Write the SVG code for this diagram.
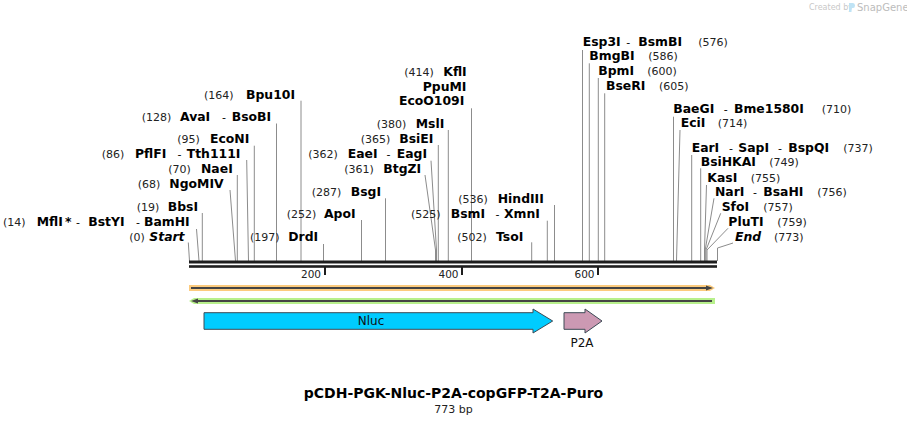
<svg xmlns="http://www.w3.org/2000/svg" width="907" height="424" viewBox="0 0 907 424">
<style>
text{font-family:"DejaVu Sans",Verdana,sans-serif}
.n{font-size:11px;fill:#222}
.b{font-size:12.4px;font-weight:bold;fill:#000}
.bi{font-size:12.4px;font-weight:bold;font-style:italic;fill:#000}
.h{font-size:11px;fill:#000}
.cut{fill:none;stroke:#8c8c8c;stroke-width:1}
.tk{font-size:10.5px;fill:#222}
.ttl{font-size:14px;font-weight:bold;fill:#000}
</style>
<rect width="907" height="424" fill="#fff"/>
<g id="logo">
<text x="809" y="10" style="font-size:8px;fill:#c8c8c8">Created by</text>
<path d="M849,3 h4 q2,0 2,2.5 q0,2.5 -2,2.5 h-1.5 v4 h-2.5 z" fill="#bfe3f5"/>
<text x="857" y="11" style="font-size:10px;fill:#bcbcbc">SnapGene</text>
</g>
<g id="connectors">
<polyline class="cut" points="188.3,242.5 189.5,261"/>
<polyline class="cut" points="196.5,229 199,261"/>
<polyline class="cut" points="202.3,213 202.3,261"/>
<polyline class="cut" points="230,190 235.5,261"/>
<polyline class="cut" points="237.3,175 237.3,261"/>
<polyline class="cut" points="246.7,160 248.5,261"/>
<polyline class="cut" points="254.3,145.7 254.3,261"/>
<polyline class="cut" points="276.5,123.5 276.5,261"/>
<polyline class="cut" points="301,100.7 301,261"/>
<polyline class="cut" points="323.5,244 323.5,261"/>
<polyline class="cut" points="361.5,220 361.5,261"/>
<polyline class="cut" points="385.5,198.3 385.5,261"/>
<polyline class="cut" points="425,175 435.5,250 435.5,261"/>
<polyline class="cut" points="431,160.7 436.5,250 436.5,261"/>
<polyline class="cut" points="438.3,145 438.3,261"/>
<polyline class="cut" points="448.3,130 448.3,261"/>
<polyline class="cut" points="471.5,108.3 471.5,261"/>
<polyline class="cut" points="531.7,242.3 531.7,261"/>
<polyline class="cut" points="547.3,220.7 547.3,261"/>
<polyline class="cut" points="554.5,205 554.5,261"/>
<polyline class="cut" points="582.5,50 582.5,261"/>
<polyline class="cut" points="589.3,63.3 589.3,261"/>
<polyline class="cut" points="598.3,78 598.3,261"/>
<polyline class="cut" points="604.7,93.3 604.7,261"/>
<polyline class="cut" points="673.5,116.7 673.5,261"/>
<polyline class="cut" points="680,130 676.5,261"/>
<polyline class="cut" points="691.7,155 691.7,261"/>
<polyline class="cut" points="700.7,168.3 700.7,261"/>
<polyline class="cut" points="706.5,185 704.5,250 704.5,261"/>
<polyline class="cut" points="714,198.3 705.2,250 705.2,261"/>
<polyline class="cut" points="720.7,213.3 706,250 706,261"/>
<polyline class="cut" points="728,228.3 707,250 707,261"/>
<polyline class="cut" points="733,243 717.5,248 717.5,261"/>
</g>
<g id="map">
<rect x="189" y="260.5" width="528" height="3" fill="#1e1e1e"/>
<rect x="189" y="265.2" width="528" height="2.6" fill="#1e1e1e"/>
<rect x="324" y="266" width="2" height="9" fill="#1e1e1e"/>
<rect x="461" y="266" width="2" height="9" fill="#1e1e1e"/>
<rect x="597" y="266" width="2" height="9" fill="#1e1e1e"/>
<text class="tk" x="321" y="277.5" text-anchor="end">200</text>
<text class="tk" x="458.5" y="277.5" text-anchor="end">400</text>
<text class="tk" x="594.5" y="277.5" text-anchor="end">600</text>
</g>
<g id="feature-orange">
<polygon points="189,285 710,285 715,288 710,291 189,291" fill="#fccb7e"/>
<line x1="191" y1="288" x2="708" y2="288" stroke="#444" stroke-width="2"/>
<polygon points="706,285.5 713,288 706,290.5" fill="#444"/>
</g>
<g id="feature-green">
<polygon points="194,298 715,298 715,304 194,304 189,301" fill="#b8f08c"/>
<line x1="196" y1="301" x2="712" y2="301" stroke="#444" stroke-width="2"/>
<polygon points="198,298.5 191,301 198,303.5" fill="#444"/>
</g>
<g id="Nluc">
<polygon points="204,312.7 533,312.7 533,309 552.7,321 533,333 533,329.3 204,329.3" fill="#00ccff" stroke="#3c4a55" stroke-width="1"/>
<text x="371" y="325" text-anchor="middle" style="font-size:12px;fill:#111">Nluc</text>
</g>
<g id="P2A">
<polygon points="564,312.7 585,312.7 585,309 602,321 585,333 585,329.3 564,329.3" fill="#cc99b3" stroke="#3c4a55" stroke-width="1"/>
<text x="582" y="347" text-anchor="middle" style="font-size:12px;fill:#111">P2A</text>
</g>
<g id="sites-left">
<text y="98.5"><tspan class="n" x="204">(164)</tspan><tspan class="b" x="246">Bpu10I</tspan></text>
<text y="120.7"><tspan class="n" x="141.7">(128)</tspan><tspan class="b" x="180">AvaI</tspan><tspan class="h" x="222">-</tspan><tspan class="b" x="231.7">BsoBI</tspan></text>
<text y="143.3"><tspan class="n" x="177.3">(95)</tspan><tspan class="b" x="210">EcoNI</tspan></text>
<text y="157.7"><tspan class="n" x="101.7">(86)</tspan><tspan class="b" x="135">PflFI</tspan><tspan class="h" x="177.5">-</tspan><tspan class="b" x="186.7">Tth111I</tspan></text>
<text y="172.7"><tspan class="n" x="168.3">(70)</tspan><tspan class="b" x="201">NaeI</tspan></text>
<text y="187.7"><tspan class="n" x="137.7">(68)</tspan><tspan class="b" x="169.3">NgoMIV</tspan></text>
<text y="210.7"><tspan class="n" x="136.7">(19)</tspan><tspan class="b" x="167.7">BbsI</tspan></text>
<text y="225.7"><tspan class="n" x="3">(14)</tspan><tspan class="b" x="36.7">MflI</tspan><tspan class="b" x="65">*</tspan><tspan class="h" x="76">-</tspan><tspan class="b" x="88.3">BstYI</tspan><tspan class="h" x="136">-</tspan><tspan class="b" x="144">BamHI</tspan></text>
<text y="240.7"><tspan class="n" x="129.3">(0)</tspan><tspan class="bi" x="149.3">Start</tspan></text>
</g>
<g id="sites-middle">
<text y="240.7"><tspan class="n" x="250">(197)</tspan><tspan class="b" x="288.3">DrdI</tspan></text>
<text y="217.7"><tspan class="n" x="286.7">(252)</tspan><tspan class="b" x="324">ApoI</tspan></text>
<text y="196"><tspan class="n" x="311.7">(287)</tspan><tspan class="b" x="350.7">BsgI</tspan></text>
<text y="172.7"><tspan class="n" x="344.3">(361)</tspan><tspan class="b" x="383.3">BtgZI</tspan></text>
<text y="157.7"><tspan class="n" x="308.3">(362)</tspan><tspan class="b" x="347.7">EaeI</tspan><tspan class="h" x="386.5">-</tspan><tspan class="b" x="396.7">EagI</tspan></text>
<text y="142.7"><tspan class="n" x="360.7">(365)</tspan><tspan class="b" x="399.3">BsiEI</tspan></text>
<text y="127.7"><tspan class="n" x="376.7">(380)</tspan><tspan class="b" x="415.7">MslI</tspan></text>
<text y="75.7"><tspan class="n" x="404.3">(414)</tspan><tspan class="b" x="443.3">KflI</tspan></text>
<text y="90.7"><tspan class="b" x="422.7">PpuMI</tspan></text>
<text y="105.3"><tspan class="b" x="399">EcoO109I</tspan></text>
<text y="203.3"><tspan class="n" x="458.3">(536)</tspan><tspan class="b" x="497.7">HindIII</tspan></text>
<text y="217.7"><tspan class="n" x="411">(525)</tspan><tspan class="b" x="450.7">BsmI</tspan><tspan class="h" x="495.5">-</tspan><tspan class="b" x="504">XmnI</tspan></text>
<text y="240.7"><tspan class="n" x="457.3">(502)</tspan><tspan class="b" x="496">TsoI</tspan></text>
</g>
<g id="sites-right">
<text y="45.7"><tspan class="b" x="582.7">Esp3I</tspan><tspan class="h" x="626.3">-</tspan><tspan class="b" x="638.3">BsmBI</tspan><tspan class="n" x="698.3">(576)</tspan></text>
<text y="60"><tspan class="b" x="589.3">BmgBI</tspan><tspan class="n" x="648.3">(586)</tspan></text>
<text y="75"><tspan class="b" x="598.3">BpmI</tspan><tspan class="n" x="647.3">(600)</tspan></text>
<text y="90"><tspan class="b" x="606">BseRI</tspan><tspan class="n" x="659">(605)</tspan></text>
<text y="113.3"><tspan class="b" x="673.3">BaeGI</tspan><tspan class="h" x="723.7">-</tspan><tspan class="b" x="734">Bme1580I</tspan><tspan class="n" x="821.7">(710)</tspan></text>
<text y="127.3"><tspan class="b" x="680.7">EciI</tspan><tspan class="n" x="717.7">(714)</tspan></text>
<text y="151.7"><tspan class="b" x="691.7">EarI</tspan><tspan class="h" x="729">-</tspan><tspan class="b" x="738.3">SapI</tspan><tspan class="h" x="778">-</tspan><tspan class="b" x="788.3">BspQI</tspan><tspan class="n" x="843.3">(737)</tspan></text>
<text y="166"><tspan class="b" x="700.7">BsiHKAI</tspan><tspan class="n" x="769.3">(749)</tspan></text>
<text y="181.7"><tspan class="b" x="707.3">KasI</tspan><tspan class="n" x="750.7">(755)</tspan></text>
<text y="196"><tspan class="b" x="715">NarI</tspan><tspan class="h" x="753">-</tspan><tspan class="b" x="763.3">BsaHI</tspan><tspan class="n" x="817.3">(756)</tspan></text>
<text y="211"><tspan class="b" x="721.7">SfoI</tspan><tspan class="n" x="763.3">(757)</tspan></text>
<text y="226"><tspan class="b" x="728.3">PluTI</tspan><tspan class="n" x="777.3">(759)</tspan></text>
<text y="240.7"><tspan class="bi" x="735">End</tspan><tspan class="n" x="774">(773)</tspan></text>
</g>
<g id="title">
<text class="ttl" x="453.5" y="398" text-anchor="middle">pCDH-PGK-Nluc-P2A-copGFP-T2A-Puro</text>
<text x="453.5" y="412.5" text-anchor="middle" style="font-size:11px;fill:#222">773 bp</text>
</g>
</svg>
